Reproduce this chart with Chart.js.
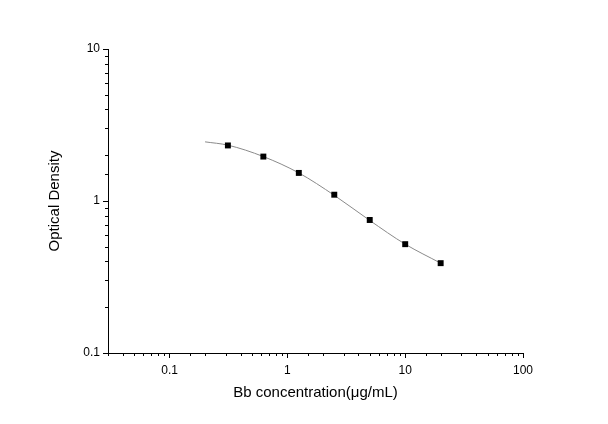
<!DOCTYPE html>
<html>
<head>
<meta charset="utf-8">
<script src="https://cdn.jsdelivr.net/npm/chart.js@4/dist/chart.umd.min.js"></script>
<style>
  body { margin: 0; background: #fff; }
  #wrap { width: 608px; height: 424px; }
</style>
</head>
<body>
<div id="wrap"><canvas id="stdCurve" width="608" height="424"></canvas></div>
<script>
// Standard points (concentration, OD)
const concX = [0.3125, 0.625, 1.25, 2.5, 5, 10, 20];
const odValues = [2.32, 1.96, 1.53, 1.10, 0.75, 0.52, 0.39];

// Fitted curve
const curveX = [0.2, 0.3125, 0.625, 1.25, 2.5, 5, 10, 20];
const curveY = [2.45, 2.33, 1.96, 1.53, 1.09, 0.745, 0.52, 0.39];

const xTickLabels = ['0.1', '1', '10', '100'];
const yTickLabels = ['0.1', '1', '10'];

const FONT = 'Liberation Sans, Arial, sans-serif';

function isDecade(v) {
    const l = Math.log10(v);
    return Math.abs(l - Math.round(l)) < 1e-6;
}

function labelFor(v, labels) {
    const s = String(+v.toPrecision(6));
    return labels.includes(s) ? s : '';
}

// short minor ticks, long ticks only on decades
const minorTicks = {
    id: 'minorTicks',
    afterDraw(chart) {
        const ctx = chart.ctx;
        const xs = chart.scales.x, ys = chart.scales.y;
        ctx.save();
        ctx.strokeStyle = '#000';
        ctx.lineWidth = 1;
        xs.ticks.forEach(t => {
            if (isDecade(t.value)) return;
            const px = Math.round(xs.getPixelForValue(t.value)) + 0.5;
            ctx.beginPath();
            ctx.moveTo(px, xs.top);
            ctx.lineTo(px, xs.top + 3);
            ctx.stroke();
        });
        ys.ticks.forEach(t => {
            if (isDecade(t.value)) return;
            const py = Math.round(ys.getPixelForValue(t.value)) + 0.5;
            ctx.beginPath();
            ctx.moveTo(ys.right, py);
            ctx.lineTo(ys.right - 3, py);
            ctx.stroke();
        });
        ctx.restore();
    }
};

const ctx = document.getElementById('stdCurve').getContext('2d');
new Chart(ctx, {
    type: 'scatter',
    data: {
        datasets: [{
            label: 'curve',
            data: curveX.map((x, i) => ({x: x, y: curveY[i]})),
            order: 2,
            showLine: true,
            borderColor: '#8a8a8a',
            borderWidth: 1,
            pointRadius: 0,
            cubicInterpolationMode: 'monotone',
            fill: false
        }, {
            label: 'standards',
            data: concX.map((x, i) => ({x: x, y: odValues[i]})),
            order: 1,
            showLine: false,
            pointStyle: 'rect',
            pointRadius: 4.2,
            backgroundColor: '#000',
            borderColor: '#000',
            borderWidth: 0
        }]
    },
    options: {
        responsive: false,
        animation: false,
        devicePixelRatio: 1,
        layout: { padding: { left: 0, right: 85, top: 49, bottom: 0 } },
        plugins: {
            legend: { display: false },
            tooltip: { enabled: false }
        },
        scales: {
            x: {
                type: 'logarithmic',
                position: 'bottom',
                min: 0.03,
                max: 100,
                afterFit: s => { s.height = 71; },
                border: { color: '#000', width: 1 },
                grid: {
                    drawOnChartArea: false,
                    tickLength: 5,
                    tickColor: c => (c.tick && isDecade(c.tick.value)) ? '#000' : 'rgba(0,0,0,0)'
                },
                ticks: {
                    autoSkip: false,
                    maxRotation: 0,
                    padding: 5,
                    color: '#000',
                    font: { family: FONT, size: 12 },
                    callback: v => labelFor(v, xTickLabels)
                },
                title: {
                    display: true,
                    text: 'Bb concentration(\u03bcg/mL)',
                    color: '#000',
                    font: { family: FONT, size: 15 },
                    padding: { top: 0, bottom: 22 }
                }
            },
            y: {
                type: 'logarithmic',
                min: 0.1,
                max: 10,
                afterFit: s => { s.width = 108; },
                border: { color: '#000', width: 1 },
                grid: {
                    drawOnChartArea: false,
                    tickLength: 5,
                    tickColor: c => (c.tick && isDecade(c.tick.value)) ? '#000' : 'rgba(0,0,0,0)'
                },
                ticks: {
                    autoSkip: false,
                    padding: 3,
                    color: '#000',
                    font: { family: FONT, size: 12 },
                    callback: v => labelFor(v, yTickLabels)
                },
                title: {
                    display: true,
                    text: 'Optical Density',
                    color: '#000',
                    font: { family: FONT, size: 15 },
                    padding: { top: 46, bottom: 0 }
                }
            }
        }
    },
    plugins: [minorTicks]
});
</script>
</body>
</html>
